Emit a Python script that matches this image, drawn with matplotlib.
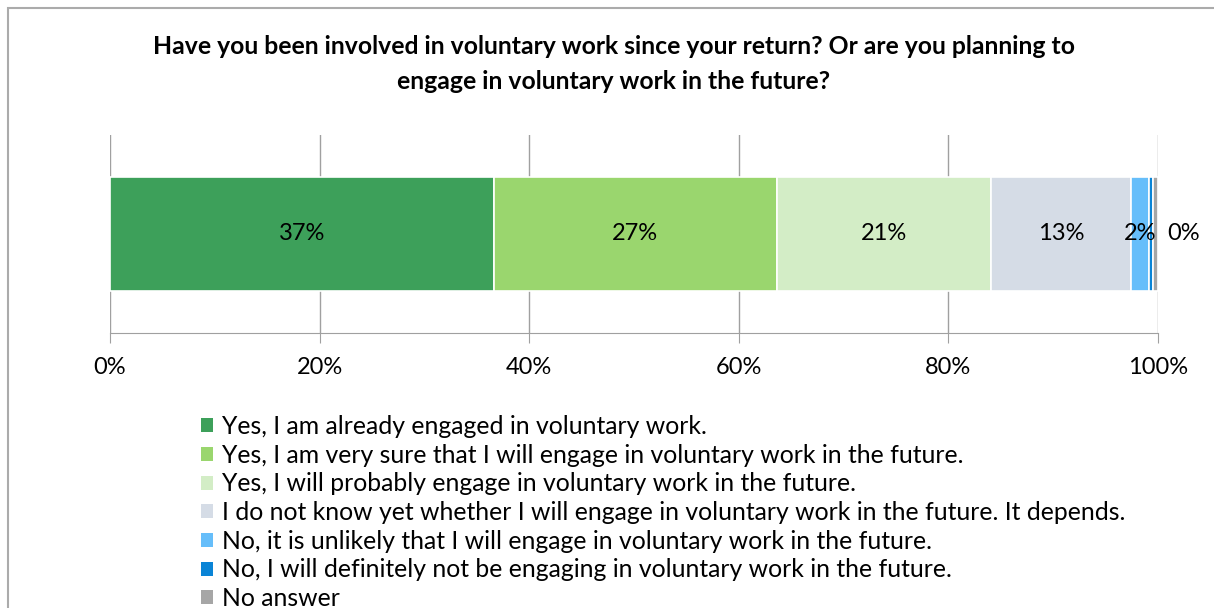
import matplotlib
matplotlib.use('Agg')
import matplotlib.pyplot as plt
from matplotlib.patches import Rectangle, Patch

plt.rcParams['font.family'] = ['Lato', 'DejaVu Sans']

# data
answers = [
    'Yes, I am already engaged in voluntary work.',
    'Yes, I am very sure that I will engage in voluntary work in the future.',
    'Yes, I will probably engage in voluntary work in the future.',
    'I do not know yet whether I will engage in voluntary work in the future. It depends.',
    'No, it is unlikely that I will engage in voluntary work in the future.',
    'No, I will definitely not be engaging in voluntary work in the future.',
    'No answer',
]
shares = [36.6, 27.0, 20.5, 13.3, 1.7, 0.45, 0.45]
shown_labels = ['37%', '27%', '21%', '13%', '2%', '0%', None]
colors = ['#3DA05A', '#9AD66E', '#D3EDC6', '#D5DCE6', '#66BEFA', '#0A84D6', '#A6A6A6']
ticks = [0, 20, 40, 60, 80, 100]

fig = plt.figure(figsize=(12.14, 6.08), dpi=100)
ax = fig.add_axes([110 / 1214, 1 - 333 / 608, 1048 / 1214, 198 / 608])

# outer chart frame
fig.patches.append(Rectangle((8 / 1214, -0.1), 1.2, 1 - 8 / 608 + 0.1,
                             transform=fig.transFigure, fill=False,
                             edgecolor='#ABABAB', linewidth=1.5))

left = 0
for i, (v, c) in enumerate(zip(shares, colors)):
    ax.barh(0, v, left=left, height=0.58, color=c, edgecolor='white',
            linewidth=1.2, zorder=3)
    lab = shown_labels[i]
    if lab is not None:
        x = left + v / 2
        if i == 5:
            x = left + v + 2.9
        ax.text(x, 0, lab, ha='center', va='center', fontsize=17, zorder=4)
    left += v

ax.set_xlim(0, 100)
ax.set_ylim(-0.5, 0.5)
ax.set_xticks(ticks)
ax.set_xticklabels([f'{t}%' for t in ticks], fontsize=17)
ax.set_yticks([])
ax.xaxis.grid(True, color='#A0A0A0', linewidth=1)
ax.tick_params(axis='x', length=7, color='#A0A0A0', pad=10)
for s in ['top', 'right', 'left']:
    ax.spines[s].set_visible(False)
ax.spines['bottom'].set_color('#A0A0A0')

fig.text(614 / 1214, 1 - 64 / 608,
         'Have you been involved in voluntary work since your return? Or are you planning to\n'
         'engage in voluntary work in the future?',
         ha='center', va='center', fontsize=17.8, fontweight='bold', linespacing=1.65)

handles = [Patch(facecolor=c, edgecolor='none') for c in colors]
fig.legend(handles, answers, loc='upper left', bbox_to_anchor=(201 / 1214, 1 - 415 / 608),
           frameon=False, fontsize=17.8, handlelength=0.5, handleheight=0.5,
           handletextpad=0.35, labelspacing=0.23, borderpad=0, borderaxespad=0)

fig.savefig('out.png', dpi=100)
